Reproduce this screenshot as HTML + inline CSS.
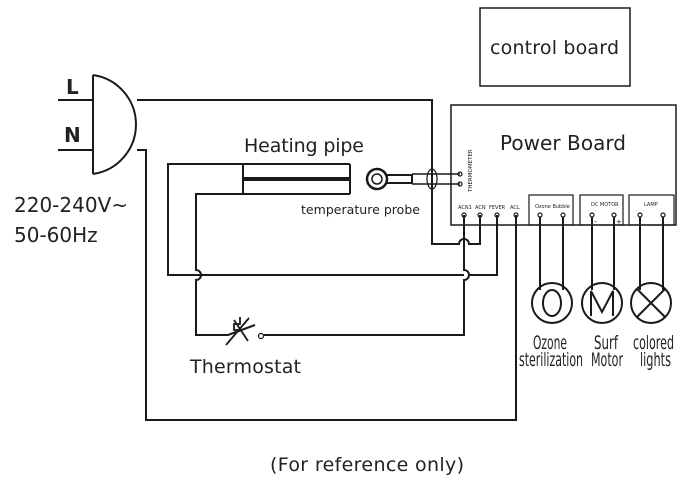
<!DOCTYPE html>
<html><head><meta charset="utf-8"><style>
html,body{margin:0;padding:0;background:#fff;}
svg{display:block;}
text{font-family:"DejaVu Sans","Liberation Sans",sans-serif;fill:#222;}
</style></head><body>
<svg width="699" height="485" viewBox="0 0 699 485" xmlns="http://www.w3.org/2000/svg">
<g fill="none" stroke="#1a1a1a" stroke-width="2">
<path d="M93,75 L93,174"/>
<path d="M93,75 A50,50 0 0 1 93,174"/>
<line x1="58" y1="100" x2="93" y2="100"/>
<line x1="58" y1="150" x2="93" y2="150"/>
<path d="M137,100 L432,100 L432,244 L459,244 A5,5 0 0 1 469,244 L480,244 L480,215"/>
<path d="M137,150 L146,150 L146,420 L516,420 L516,215"/>
<rect x="480" y="8" width="150" height="78" stroke-width="1.5"/>
<rect x="451" y="105" width="225" height="120" stroke-width="1.5"/>
<rect x="529" y="195" width="44" height="30" stroke-width="1.2"/>
<rect x="580" y="195" width="43" height="30" stroke-width="1.2"/>
<rect x="629" y="195" width="45" height="30" stroke-width="1.2"/>
<path d="M350,164 L168,164 L168,275 L464,275 M469,275 L497,275 L497,215"/>
<path d="M350,194 L196,194 L196,270 A5,5 0 0 1 196,280 L196,335 L228,335 L255,325"/>
<line x1="350" y1="164" x2="350" y2="194"/>
<line x1="243" y1="164" x2="243" y2="194"/>
<line x1="243" y1="179" x2="350" y2="179" stroke-width="4"/>
<path d="M464,215 L464,270 A5,5 0 0 1 464,280 L464,335 L264,335" />
<path d="M234,320 L248,341 M240,317 L240,324 L234,324 L234,330 L240,330" stroke-width="1.8"/>
<path d="M226,345 L249,318" stroke-width="1.8"/>
<circle cx="261" cy="336" r="2.5" stroke-width="1.2"/>
<circle cx="377" cy="179" r="10" stroke-width="2.5"/>
<circle cx="377" cy="179" r="5" stroke-width="1.5"/>
<path d="M386,175 L412,175 L412,183 L386,183" stroke-width="2"/>
<line x1="412" y1="174" x2="460" y2="174" stroke-width="1.5"/>
<line x1="412" y1="184" x2="460" y2="184" stroke-width="1.5"/>
<ellipse cx="432" cy="179" rx="5" ry="10" stroke-width="1.2"/>
<circle cx="460" cy="174" r="2" stroke-width="1.2"/>
<circle cx="460" cy="184" r="2" stroke-width="1.2"/>
<g stroke-width="1.2">
<circle cx="464" cy="215" r="2"/><circle cx="480" cy="215" r="2"/><circle cx="497" cy="215" r="2"/><circle cx="516" cy="215" r="2"/>
<circle cx="540" cy="215" r="2"/><circle cx="563" cy="215" r="2"/>
<circle cx="592" cy="215" r="2"/><circle cx="614" cy="215" r="2"/>
<circle cx="640" cy="215" r="2"/><circle cx="663" cy="215" r="2"/>
</g>
<path d="M540,217 L540,290 M563,217 L563,290 M592,217 L592,290 M614,217 L614,290 M640,217 L640,290 M663,217 L663,290"/>
<circle cx="552" cy="303" r="20"/>
<circle cx="602" cy="303" r="20"/>
<circle cx="651" cy="303" r="20"/>
<ellipse cx="552" cy="303" rx="9" ry="13"/>
<path d="M591,316 L591,291 L602,312 L613,291 L613,316"/>
<path d="M637,289 L665,317 M665,289 L637,317"/>
</g>
<text x="66" y="94" font-size="20" font-weight="bold" font-family="Liberation Sans">L</text>
<text x="64" y="142" font-size="20" font-weight="bold" font-family="Liberation Sans">N</text>
<text x="14" y="212" font-size="20" font-family="Liberation Sans">220-240V~</text>
<text x="14" y="242" font-size="20" font-family="Liberation Sans">50-60Hz</text>
<text x="490" y="54" font-size="19" textLength="129">control board</text>
<text x="500" y="150" font-size="20" textLength="126">Power Board</text>
<text x="244" y="152" font-size="19" textLength="120">Heating pipe</text>
<text x="301" y="214" font-size="12.5" textLength="119">temperature probe</text>
<text x="190" y="373" font-size="19" textLength="111">Thermostat</text>
<text x="270" y="471" font-size="19" textLength="194">(For reference only)</text>
<text transform="translate(472,192) rotate(-90)" font-size="5.5">THERMOMETER</text>
<g font-size="5">
<text x="458" y="209">ACN1</text><text x="475" y="209">ACN</text><text x="489" y="209">FEVER</text><text x="510" y="209">ACL</text>
<text x="535" y="208">Ozone Bubble</text><text x="591" y="206">DC MOTOR</text><text x="644" y="206">LAMP</text>
</g>
<text x="594" y="224" font-size="8">-</text><text x="616" y="224" font-size="7">+</text>
<g font-size="19">
<text x="533" y="349" textLength="34" lengthAdjust="spacingAndGlyphs">Ozone</text>
<text x="519" y="366" textLength="64" lengthAdjust="spacingAndGlyphs">sterilization</text>
<text x="594" y="349" textLength="24" lengthAdjust="spacingAndGlyphs">Surf</text>
<text x="591" y="366" textLength="32" lengthAdjust="spacingAndGlyphs">Motor</text>
<text x="633" y="349" textLength="41" lengthAdjust="spacingAndGlyphs">colored</text>
<text x="640" y="366" textLength="31" lengthAdjust="spacingAndGlyphs">lights</text>
</g>
</svg>
</body></html>
